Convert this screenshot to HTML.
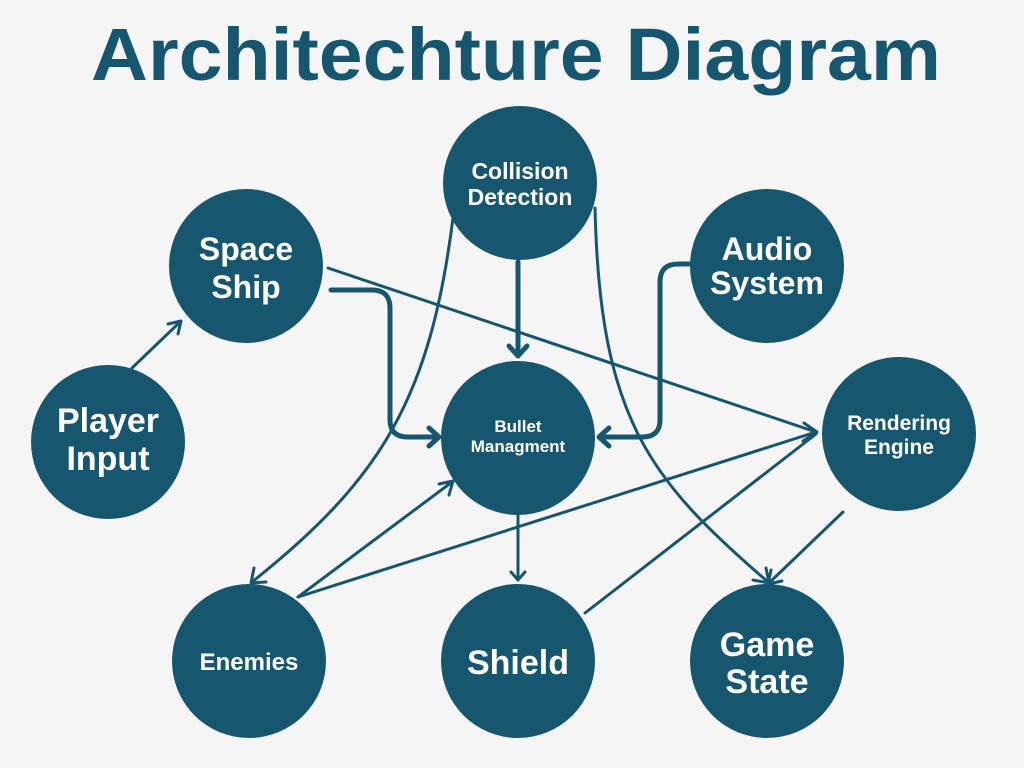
<!DOCTYPE html>
<html><head><meta charset="utf-8"><style>
html,body{margin:0;padding:0;background:#f5f5f5;}
svg{display:block;font-family:"Liberation Sans",sans-serif;}
</style></head><body>
<svg width="1024" height="768" viewBox="0 0 1024 768" xmlns="http://www.w3.org/2000/svg">
<rect width="1024" height="768" fill="#f5f5f5"/>
<text x="516" y="80" text-anchor="middle" font-size="74" font-weight="bold" fill="#17566f" textLength="850" lengthAdjust="spacingAndGlyphs">Architechture Diagram</text>
<g fill="none" stroke="#17566f" stroke-width="3" stroke-linecap="round" stroke-linejoin="round">
<path d="M132,368 L180,322"/><path d="M168,324 L181,321 L178,334"/>
<path d="M328,268 L816,432"/>
<path d="M298,597 L816,432"/>
<path d="M585,613 L816,434"/>
<path d="M804,423 L817,432 L803,441"/>
<path d="M453,218 C430,400 380,480 252,582"/><path d="M254,568 L251,583 L266,582"/>
<path d="M595,208 C600,420 650,480 768,582"/><path d="M753,580 L769,583 L766,568"/>
<path d="M518,515 L518,579"/><path d="M511,572 L518,580 L525,572"/>
<path d="M298,597 L452,482"/><path d="M439,484 L453,481 L449,495"/>
<path d="M843,512 L769,583"/><path d="M771,570 L768,584 L782,581"/>
</g>
<g fill="none" stroke="#17566f" stroke-width="5" stroke-linecap="round" stroke-linejoin="round">
<path d="M331,290 L372,290 Q390,290 390,308 L390,420 Q390,437 408,437 L438,437"/>
<path d="M429,428 L439,437 L429,446"/>
<path d="M518,262 L518,355"/><path d="M509,346 L518,356 L527,346"/>
<path d="M690,264 L678,264 Q660,264 660,282 L660,420 Q660,437 642,437 L600,437"/>
<path d="M609,428 L599,437 L609,446"/>
</g>
<g fill="#17566f">
<circle cx="520" cy="183" r="77"/>
<circle cx="246" cy="266" r="77"/>
<circle cx="767" cy="266" r="77"/>
<circle cx="108" cy="442" r="77"/>
<circle cx="518" cy="438" r="77"/>
<circle cx="899" cy="434" r="77"/>
<circle cx="249" cy="661" r="77"/>
<circle cx="518" cy="661" r="77"/>
<circle cx="767" cy="661" r="77"/>
</g>
<g fill="#ffffff" font-weight="bold" text-anchor="middle">
<text x="520" y="179" font-size="23">Collision</text>
<text x="520" y="205" font-size="23">Detection</text>
<text x="246" y="260" font-size="32">Space</text>
<text x="246" y="298" font-size="32">Ship</text>
<text x="767" y="260" font-size="32">Audio</text>
<text x="767" y="294" font-size="32">System</text>
<text x="108" y="432" font-size="34">Player</text>
<text x="108" y="470" font-size="34">Input</text>
<text x="518" y="432" font-size="17">Bullet</text>
<text x="518" y="452" font-size="17">Managment</text>
<text x="899" y="430" font-size="21">Rendering</text>
<text x="899" y="454" font-size="21">Engine</text>
<text x="249" y="670" font-size="24">Enemies</text>
<text x="518" y="674" font-size="34">Shield</text>
<text x="767" y="656" font-size="34">Game</text>
<text x="767" y="693" font-size="34">State</text>
</g>
</svg>
</body></html>
